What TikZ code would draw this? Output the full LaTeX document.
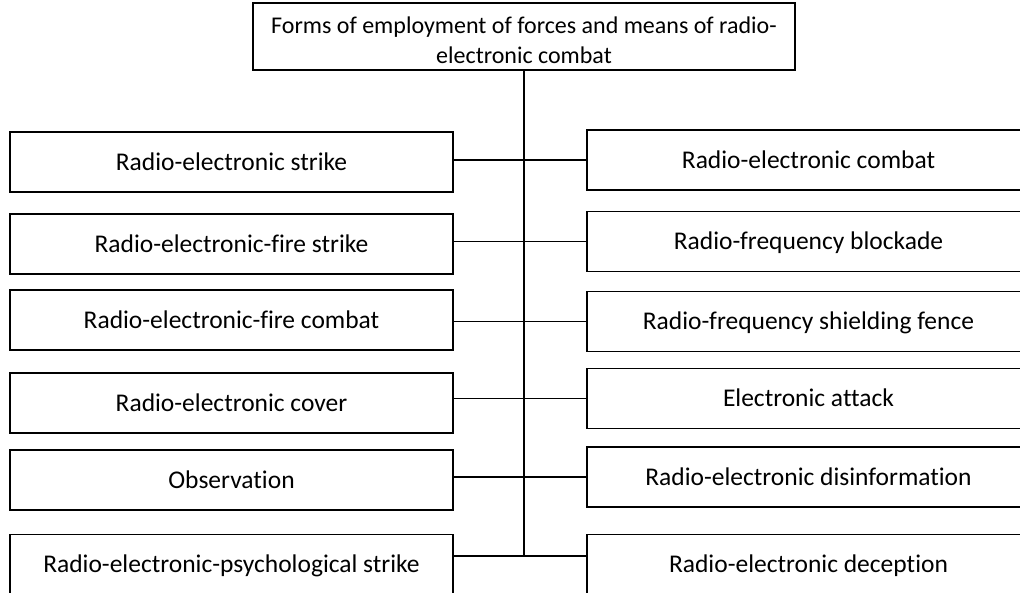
\documentclass[tikz,border=0pt]{standalone}
\usepackage{fontspec}
\setmainfont{Carlito}[RawFeature={-liga;-clig}]

\begin{document}
\begin{tikzpicture}[x=1pt,y=-1pt]
  \tikzset{box/.style = {shape=rectangle,draw,line width=1.5pt,minimum width=443pt,minimum height=60pt,inner sep=0pt,font=\fontsize{25.5pt}{30pt}\selectfont,text height=21pt,text depth=5pt}}
  \tikzset{topbox/.style = {shape=rectangle,draw,line width=1.5pt,minimum width=542pt,minimum height=67pt,inner sep=0pt,align=center,font=\fontsize{24pt}{30pt}\selectfont}}
  \tikzset{edge/.style = {line width=1.3pt}}

  \useasboundingbox[fill=white] (0,0) rectangle (1020,592);

	\node[topbox] (forms) at (524,36.5) {\rule{0pt}{25pt}Forms of employment of forces and means of radio-\\electronic combat};

	% left column
	\node[box] (l1) at (231.5,162) {Radio-electronic strike};
	\node[box] (l2) at (231.5,244) {Radio-electronic-fire strike};
	\node[box] (l3) at (231.5,320) {Radio-electronic-fire combat};
	\node[box] (l4) at (231.5,403) {Radio-electronic cover};
	\node[box] (l5) at (231.5,480) {Observation};
	\node[box] (l6) at (231.5,564.5) {Radio-electronic-psychological strike};

	% right column
	\node[box] (r1) at (808.5,160) {Radio-electronic combat};
	\node[box] (r2) at (808.5,241.5) {Radio-frequency blockade};
	\node[box] (r3) at (808.5,321.5) {Radio-frequency shielding fence};
	\node[box] (r4) at (808.5,398.5) {Electronic attack};
	\node[box] (r5) at (808.5,477) {Radio-electronic disinformation};
	\node[box] (r6) at (808.5,564.5) {Radio-electronic deception};

	\coordinate (spineend) at (524,556);
	\draw[edge] (forms.south) -- (spineend);

    \foreach \from/\to in {l1/r1,l2/r2,l3/r3,l4/r4,l5/r5}
    \draw[edge] (\to.west -| \from.east) -- (\to.west);

    \draw[edge] (spineend -| l6.east) -- (spineend -| r6.west);

\end{tikzpicture}
\end{document}
